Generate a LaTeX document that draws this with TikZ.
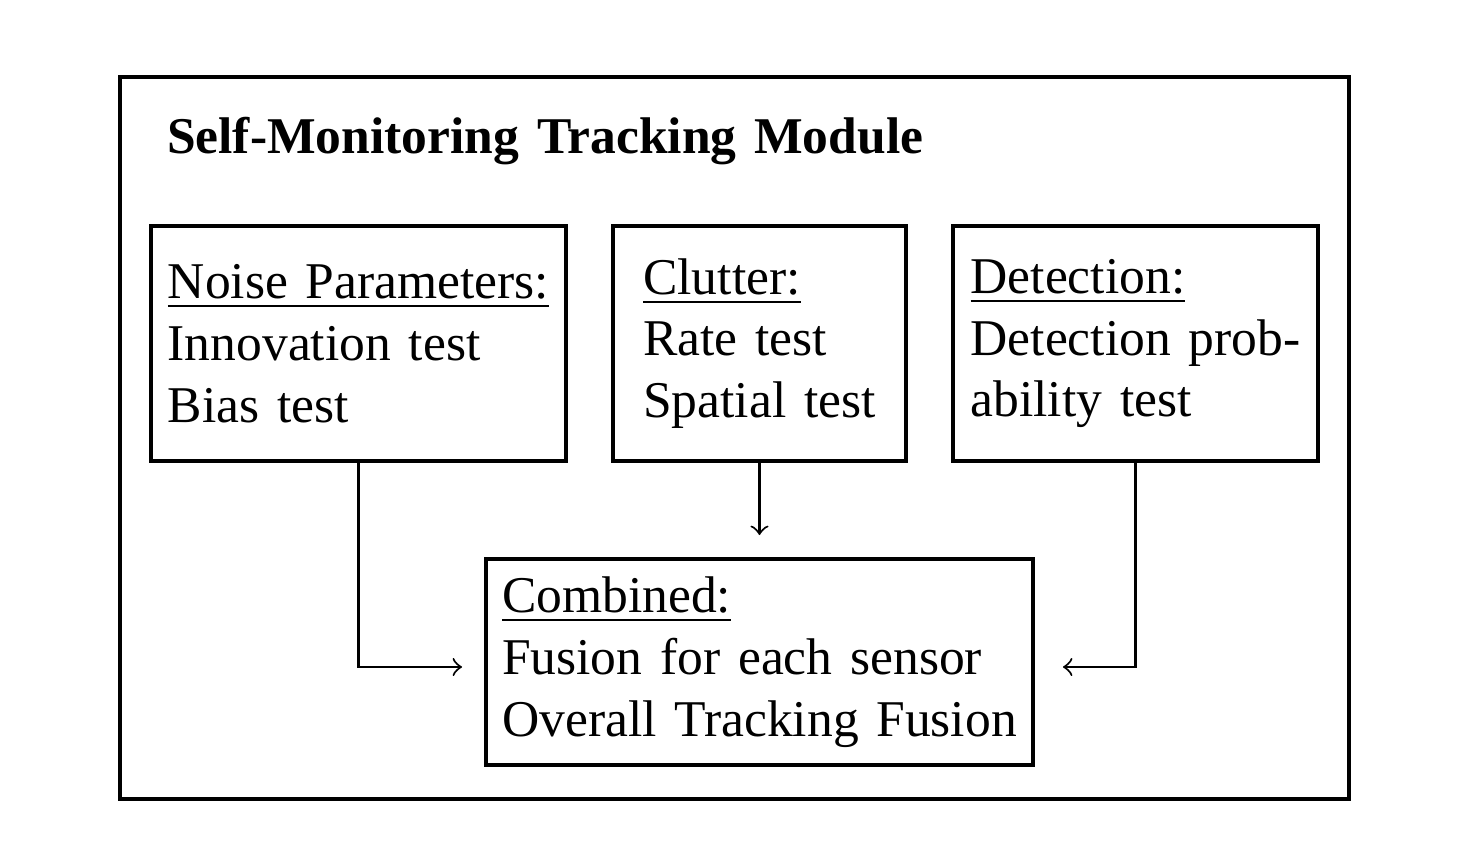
\documentclass[tikz,border=0pt]{standalone}
\usepackage{fontspec}
\setmainfont[WordSpace=1.38]{Liberation Serif}
\begin{document}
\begin{tikzpicture}[x=0.194pt,y=-0.194pt,
  frame/.style={draw,line width=0.8pt,rectangle,inner sep=0pt},
  box/.style={draw,line width=0.75pt,rectangle,align=left,inner sep=0pt,font=\fontsize{10}{12}\selectfont},
  arr/.style={->,line width=0.4pt}]
\useasboundingbox (0,0) rectangle (1462,864);
\node[frame,minimum width=1229*0.194pt,minimum height=722*0.194pt] (outer) at (734.5,438) {};
\node[anchor=base west,inner sep=0pt,font=\fontsize{10}{12}\selectfont\bfseries] (title) at (166,153) {Self-Monitoring Tracking Module};
\node[box,minimum width=415*0.194pt,minimum height=235*0.194pt] (noise) at (358.5,343.5)
  {\underline{Noise Parameters:}\\Innovation test\\Bias test};
\node[box,minimum width=293*0.194pt,minimum height=235*0.194pt] (clutter) at (759.5,343.5)
  {\underline{Clutter:}\\Rate test\\Spatial test};
\node[box,minimum width=365*0.194pt,minimum height=235*0.194pt] (det) at (1135.5,343.5)
  {\underline{Detection:}\\Detection prob-\\ability test};
\node[box,minimum width=547*0.194pt,minimum height=206*0.194pt] (comb) at (759.5,662)
  {\underline{Combined:}\\Fusion for each sensor\\Overall Tracking Fusion};
\coordinate (endA) at (462,667);
\coordinate (endB) at (759.5,535);
\coordinate (endC) at (1063,667);
\draw[arr] (noise.south) |- (endA);
\draw[arr] (clutter.south) -- (endB);
\draw[arr] (det.south) |- (endC);
\end{tikzpicture}
\end{document}
